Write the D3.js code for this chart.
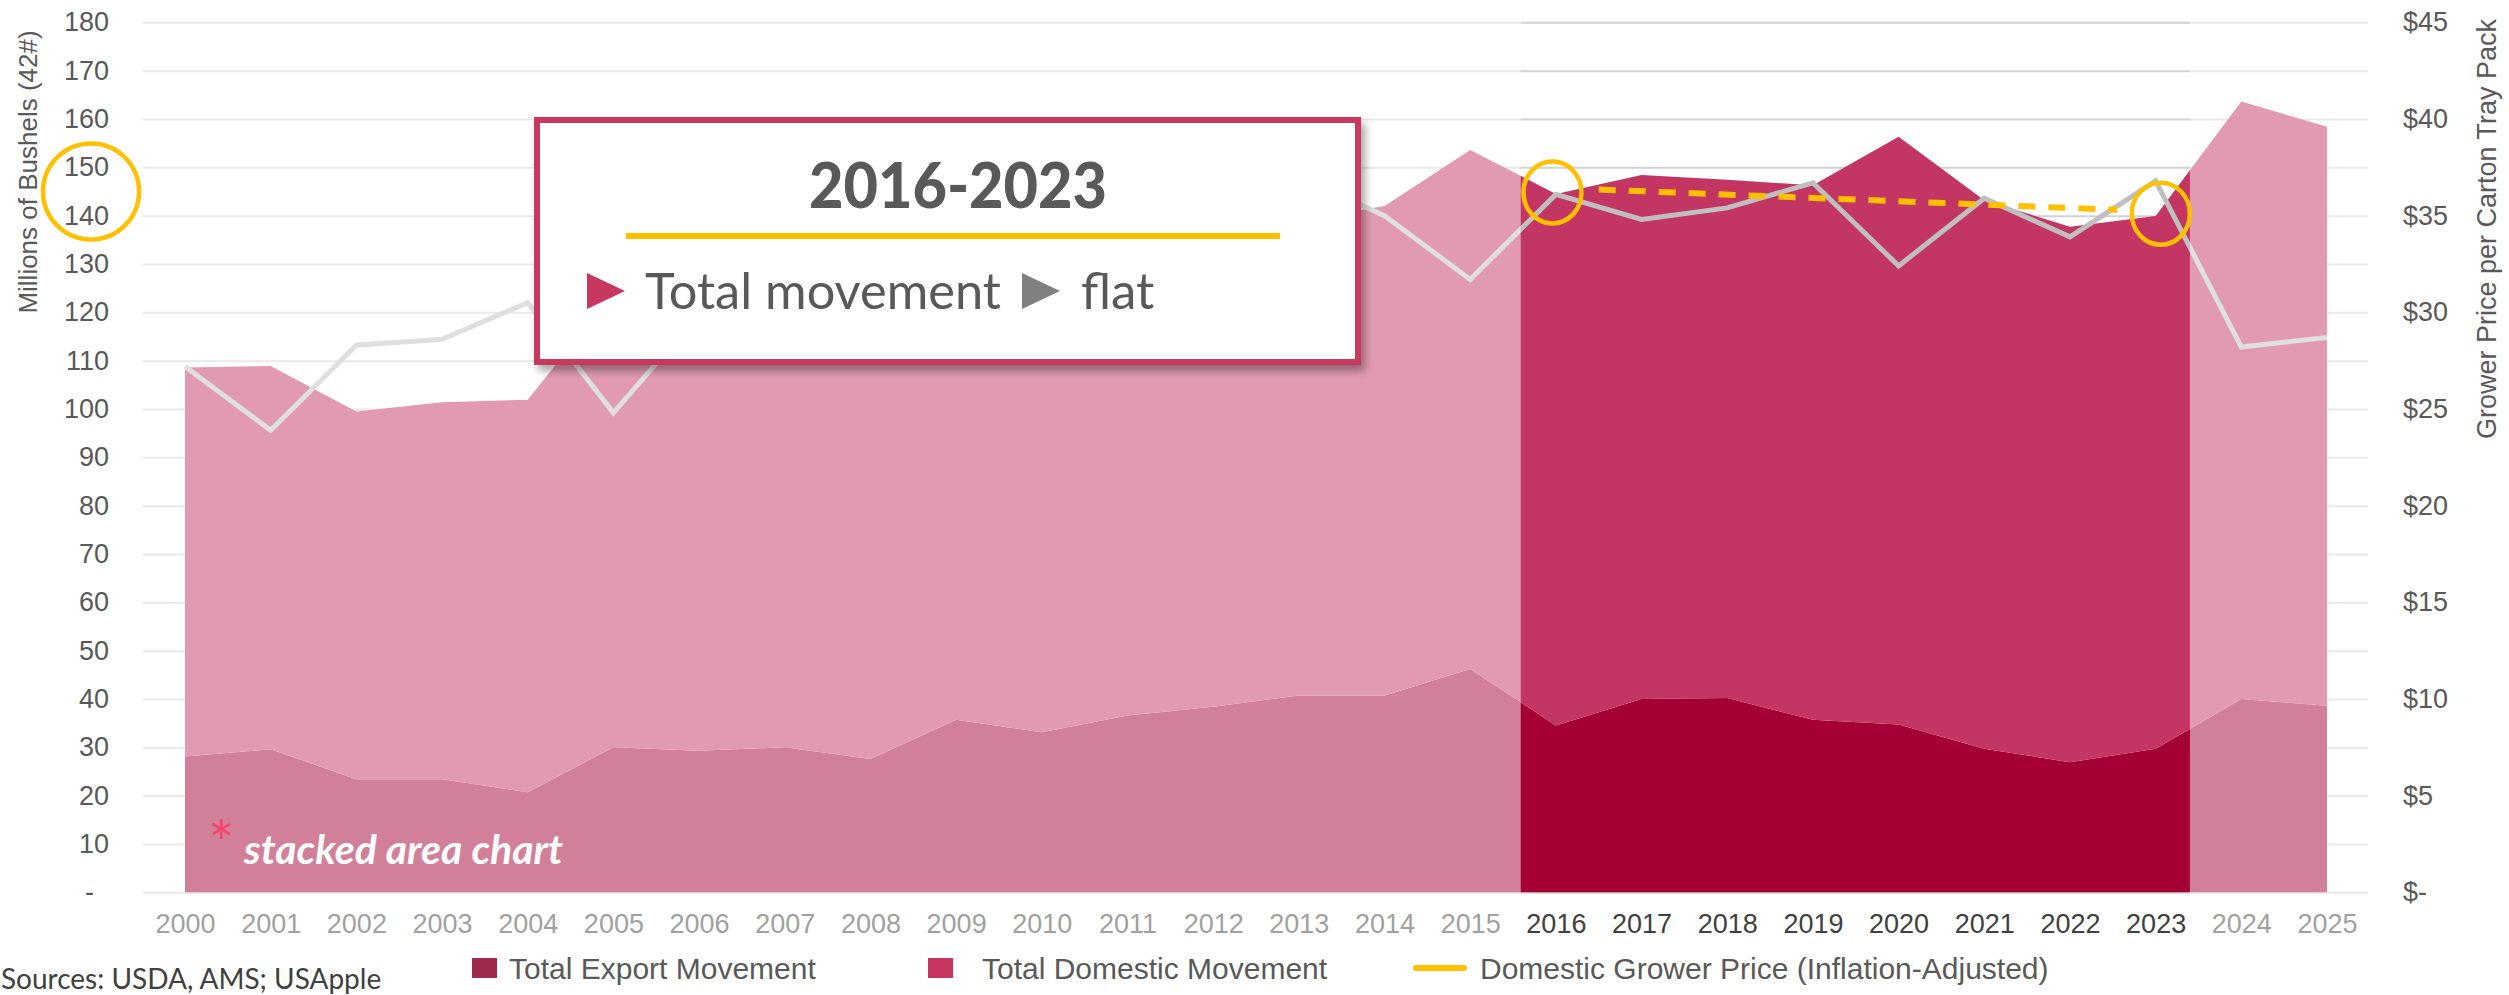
<!DOCTYPE html>
<html>
<head>
<meta charset="utf-8">
<script src="https://cdn.jsdelivr.net/npm/d3@7"></script>
<style>
	body { margin: 0; background: #fff; overflow: hidden; }
	svg { display: block; }
</style>
</head>
<body>
<div id="chart"></div>
<script>
var years = [
	2000, 2001, 2002, 2003, 2004, 2005, 2006, 2007, 2008, 2009, 2010, 2011, 2012,
	2013, 2014, 2015, 2016, 2017, 2018, 2019, 2020, 2021, 2022, 2023, 2024, 2025,
];
// millions of bushels (42#)
var exportMovement = [
	28.1, 29.6, 23.4, 23.4, 20.7, 30.0, 29.3, 30.0, 27.6, 35.7, 33.1, 36.6, 38.4,
	40.7, 40.7, 46.2, 34.5, 40.0, 40.2, 35.7, 34.7, 29.7, 26.9, 29.7, 40.0, 38.6,
];
var domesticMovement = [
	80.5, 79.3, 76.1, 78.0, 81.2, 94.0, 88.7, 95.0, 93.4, 97.3, 94.9, 97.4, 91.6,
	98.3, 101.3, 107.4, 110.0, 108.4, 107.2, 110.6, 121.6, 113.5, 110.8, 110.2, 123.6, 119.8,
];
// $ per carton tray pack
var growerPrice = [
	27.2, 23.9, 28.3, 28.6, 30.5, 24.8, 29.9, 31.5, 30.2, 29.0, 31.0, 33.5, 35.5,
	37.0, 35.0, 31.7, 36.1, 34.8, 35.4, 36.7, 32.4, 35.9, 33.9, 36.8, 28.2, 28.7,
];

var leftTicks = [0, 10, 20, 30, 40, 50, 60, 70, 80, 90, 100, 110, 120, 130, 140, 150, 160, 170, 180];
var rightTicks = [0, 5, 10, 15, 20, 25, 30, 35, 40, 45];

var highlightRange = [2015.59, 2023.4];
var trendYears = [2016.5, 2022.55];
var trendPrice = [36.35, 35.3];
var circleYears = [2015.96, 2023.06];
var circlePrice = [36.2, 35.1];

var legendLabels = [
	"Total Export Movement",
	"Total Domestic Movement",
	"Domestic Grower Price (Inflation-Adjusted)",
];

var W = 2509;
var H = 995;
var axisFont = "'Liberation Sans', Arial, sans-serif";
var calFont = "Lato, 'Open Sans', sans-serif";
var yellow = "#FFC000";

var x = d3.scaleLinear().domain([2000, 2025]).range([185, 2327]);
var y = d3.scaleLinear().domain([0, 180]).range([892.3, 22.3]);
var yPrice = d3.scaleLinear().domain([0, 45]).range([892.3, 22.3]);

var svg = d3
	.select("#chart")
	.append("svg")
	.attr("width", W)
	.attr("height", H);

var defs = svg.append("defs");
defs.append("filter")
	.attr("id", "shadow")
	.attr("x", "-5%")
	.attr("y", "-5%")
	.attr("width", "115%")
	.attr("height", "125%")
	.append("feDropShadow")
	.attr("dx", 4)
	.attr("dy", 6)
	.attr("stdDeviation", 4)
	.attr("flood-color", "#000")
	.attr("flood-opacity", 0.35);

// gridlines
svg.append("g")
	.attr("class", "grid")
	.attr("transform", "translate(143,0)")
	.call(d3.axisLeft(y).tickValues(leftTicks).tickSize(-(2368 - 143)).tickFormat(""))
	.call((g) => g.select(".domain").remove())
	.selectAll("line")
	.attr("stroke", "#D2D2D2")
	.attr("stroke-width", 2);

// stacked areas
var table = years.map((d, i) => ({
	year: d,
	exp: exportMovement[i],
	dom: domesticMovement[i],
}));
var series = d3.stack().keys(["exp", "dom"])(table);
var areaColors = { exp: "#A50034", dom: "#C33562" };

var area = d3
	.area()
	.x((d) => x(d.data.year))
	.y0((d) => y(d[0]))
	.y1((d) => y(d[1]));

svg.selectAll("path.area")
	.data(series)
	.enter()
	.append("path")
	.attr("class", "area")
	.attr("d", area)
	.attr("fill", (d) => areaColors[d.key]);

// price line
var priceLine = d3
	.line()
	.x((d, i) => x(years[i]))
	.y((d) => yPrice(d));

svg.append("path")
	.datum(growerPrice)
	.attr("d", priceLine)
	.attr("fill", "none")
	.attr("stroke", "#BFBFBF")
	.attr("stroke-width", 5)
	.attr("stroke-linejoin", "miter");

// axes
var xAxis = svg
	.append("g")
	.attr("transform", "translate(0,892)")
	.call(d3.axisBottom(x).tickValues(years).tickFormat(d3.format("d")).tickSize(0).tickPadding(22));
xAxis.select(".domain").remove();
xAxis.selectAll("text")
	.attr("fill", "#404040")
	.style("font-family", axisFont)
	.style("font-size", "27px");

var yAxis = svg
	.append("g")
	.attr("transform", "translate(109,0)")
	.call(
		d3.axisLeft(y)
			.tickValues(leftTicks)
			.tickSize(0)
			.tickPadding(0)
			.tickFormat((d) => (d === 0 ? "-\u00a0\u00a0" : d))
	);
yAxis.select(".domain").remove();
yAxis.selectAll("text")
	.attr("fill", "#595959")
	.style("font-family", axisFont)
	.style("font-size", "27px");

var yAxisRight = svg
	.append("g")
	.attr("transform", "translate(2403,0)")
	.call(
		d3.axisRight(yPrice)
			.tickValues(rightTicks)
			.tickSize(0)
			.tickPadding(0)
			.tickFormat((d) => (d === 0 ? "$-" : "$" + d))
	);
yAxisRight.select(".domain").remove();
yAxisRight.selectAll("text")
	.attr("fill", "#595959")
	.style("font-family", axisFont)
	.style("font-size", "27px");

// fade everything outside 2016-2023
var fadeTop = 8;
var fadeBottom = 946;
svg.append("rect")
	.attr("x", 140)
	.attr("y", fadeTop)
	.attr("width", x(highlightRange[0]) - 140)
	.attr("height", fadeBottom - fadeTop)
	.attr("fill", "#fff")
	.attr("fill-opacity", 0.5);
svg.append("rect")
	.attr("x", x(highlightRange[1]))
	.attr("y", fadeTop)
	.attr("width", 2375 - x(highlightRange[1]))
	.attr("height", fadeBottom - fadeTop)
	.attr("fill", "#fff")
	.attr("fill-opacity", 0.5);

// trend annotation
svg.append("line")
	.attr("x1", x(trendYears[0]))
	.attr("y1", yPrice(trendPrice[0]))
	.attr("x2", x(trendYears[1]))
	.attr("y2", yPrice(trendPrice[1]))
	.attr("stroke", yellow)
	.attr("stroke-width", 6)
	.attr("stroke-dasharray", "17,13");

svg.selectAll("ellipse.mark")
	.data(circleYears)
	.enter()
	.append("ellipse")
	.attr("class", "mark")
	.attr("cx", (d) => x(d))
	.attr("cy", (d, i) => yPrice(circlePrice[i]))
	.attr("rx", 29)
	.attr("ry", 31)
	.attr("fill", "none")
	.attr("stroke", yellow)
	.attr("stroke-width", 4.5);

// ring round the 140-150 labels
svg.append("circle")
	.attr("cx", 91)
	.attr("cy", y(145))
	.attr("r", 48)
	.attr("fill", "none")
	.attr("stroke", yellow)
	.attr("stroke-width", 4.5);

// call-out box
var box = svg.append("g");
box.append("rect")
	.attr("x", 537)
	.attr("y", 120)
	.attr("width", 821)
	.attr("height", 242)
	.attr("fill", "#fff")
	.attr("stroke", "#C8375F")
	.attr("stroke-width", 6)
	.attr("filter", "url(#shadow)");
box.append("text")
	.attr("x", 958)
	.attr("y", 208)
	.attr("text-anchor", "middle")
	.attr("fill", "#595959")
	.style("font-family", calFont)
	.style("font-weight", "900")
	.style("font-size", "63px")
	.attr("textLength", 298)
	.attr("lengthAdjust", "spacingAndGlyphs")
	.text("2016-2023");
box.append("line")
	.attr("x1", 626)
	.attr("x2", 1280)
	.attr("y1", 236)
	.attr("y2", 236)
	.attr("stroke", yellow)
	.attr("stroke-width", 6);
box.append("path")
	.attr("d", "M587,273L625,291L587,309Z")
	.attr("fill", "#C8375F");
box.append("text")
	.attr("x", 645)
	.attr("y", 309)
	.attr("fill", "#595959")
	.style("font-family", calFont)
	.style("font-size", "51px")
	.attr("textLength", 356)
	.attr("lengthAdjust", "spacingAndGlyphs")
	.text("Total movement");
box.append("path")
	.attr("d", "M1022,273L1060,291L1022,309Z")
	.attr("fill", "#808080");
box.append("text")
	.attr("x", 1081)
	.attr("y", 309)
	.attr("fill", "#595959")
	.style("font-family", calFont)
	.style("font-size", "51px")
	.text("flat");

// note inside the area
svg.append("text")
	.attr("x", 208)
	.attr("y", 866)
	.attr("fill", "#F4476B")
	.style("font-family", calFont)
	.style("font-size", "62px")
	.text("*");
svg.append("text")
	.attr("x", 244)
	.attr("y", 864)
	.attr("fill", "#fff")
	.style("font-family", calFont)
	.style("font-weight", "bold")
	.style("font-style", "italic")
	.style("font-size", "41px")
	.text("stacked area chart");

// axis titles
svg.append("text")
	.attr("transform", "translate(28,172) rotate(-90)")
	.attr("dy", "0.35em")
	.attr("text-anchor", "middle")
	.attr("fill", "#595959")
	.style("font-family", axisFont)
	.style("font-size", "26px")
	.text("Millions of Bushels (42#)");

svg.append("text")
	.attr("transform", "translate(2487,229) rotate(-90)")
	.attr("dy", "0.35em")
	.attr("text-anchor", "middle")
	.attr("fill", "#595959")
	.style("font-family", axisFont)
	.style("font-size", "27px")
	.text("Grower Price per Carton Tray Pack");

// legend
var legendX = [472, 928, 1416];
var legend = svg.append("g");
legend.append("rect")
	.attr("x", legendX[0])
	.attr("y", 958)
	.attr("width", 25)
	.attr("height", 20)
	.attr("fill", "#9E2A4E");
legend.append("rect")
	.attr("x", legendX[1])
	.attr("y", 958)
	.attr("width", 25)
	.attr("height", 20)
	.attr("fill", "#C8375F");
legend.append("line")
	.attr("x1", legendX[2])
	.attr("x2", legendX[2] + 48)
	.attr("y1", 968)
	.attr("y2", 968)
	.attr("stroke", yellow)
	.attr("stroke-width", 6)
	.attr("stroke-linecap", "round");
legend.selectAll("text")
	.data(legendLabels)
	.enter()
	.append("text")
	.attr("x", (d, i) => [509, 982, 1480][i])
	.attr("y", 979)
	.attr("fill", "#595959")
	.style("font-family", axisFont)
	.style("font-size", "30px")
	.text((d) => d);

svg.append("text")
	.attr("x", 1)
	.attr("y", 989)
	.attr("fill", "#404040")
	.style("font-family", calFont)
	.style("font-size", "28px")
	.text("Sources: USDA, AMS; USApple");
</script>
</body>
</html>
